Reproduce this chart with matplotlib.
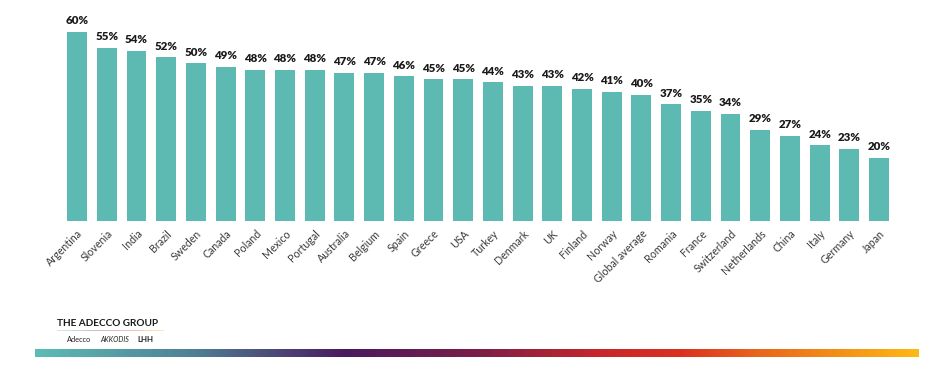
import numpy as np
import matplotlib
matplotlib.use("Agg")
import matplotlib.pyplot as plt
from matplotlib.colors import LinearSegmentedColormap

countries = ["Argentina", "Slovenia", "India", "Brazil", "Sweden", "Canada", "Poland",
             "Mexico", "Portugal", "Australia", "Belgium", "Spain", "Greece", "USA",
             "Turkey", "Denmark", "UK", "Finland", "Norway", "Global average", "Romania",
             "France", "Switzerland", "Netherlands", "China", "Italy", "Germany", "Japan"]
values = [60, 55, 54, 52, 50, 49, 48, 48, 48, 47, 47, 46, 45, 45,
          44, 43, 43, 42, 41, 40, 37, 35, 34, 29, 27, 24, 23, 20]
value_labels = [f"{v}%" for v in values]

W, H = 930, 365
fig = plt.figure(figsize=(W / 100, H / 100), dpi=100)
fig.patch.set_facecolor("white")

# main axes in pixel coords
ax_left, ax_right = 62.2, 893.9
ax_bottom_px = 221  # from top
ax_top_px = 221 - 65 * 3.15
ax = fig.add_axes([ax_left / W, (H - ax_bottom_px) / H,
                   (ax_right - ax_left) / W, (ax_bottom_px - ax_top_px) / H])
x = np.arange(len(countries))
ax.bar(x, values, width=0.67, color="#5cbab3", edgecolor="none")
ax.set_xlim(-0.5, len(countries) - 0.5)
ax.set_ylim(0, 65)
for xi, v, lab in zip(x, values, value_labels):
    ax.annotate(lab, (xi, v), xytext=(0, 4), textcoords="offset points",
                ha="center", va="bottom", fontsize=8.3, fontweight="heavy",
                family=["Lato", "DejaVu Sans"], color="#1a1a1a")
ax.set_xticks(x)
ax.set_xticklabels(countries, rotation=45, ha="right", va="top",
                   rotation_mode="anchor", fontsize=7.7,
                   family=["Lato", "DejaVu Sans"], color="#3a3a3a")
ax.tick_params(axis="x", length=0, pad=5)
ax.set_yticks([])
for s in ax.spines.values():
    s.set_visible(False)

# logo text
fig.text(57 / W, 1 - 324 / H, "THE ADECCO GROUP", fontsize=7.2, fontweight="bold",
         family=["Lato", "DejaVu Sans"], color="#1a1a1a", va="center", ha="left")
fig.text(67 / W, 1 - 339 / H, "Adecco", fontsize=5.3, family=["Lato", "DejaVu Sans"],
         color="#222222", va="center", ha="left")
fig.text(100 / W, 1 - 339 / H, "AKKODIS", fontsize=5.0, family=["Lato", "DejaVu Sans"],
         color="#222222", va="center", ha="left", style="italic")
fig.text(137 / W, 1 - 339 / H, "LHH", fontsize=5.6, fontweight="bold",
         family=["Lato", "DejaVu Sans"], color="#222222", va="center", ha="left")

# gradient stripe
stops = [(0.0, "#5cbcb4"), (0.18, "#4e7f95"), (0.35, "#4a1a5e"),
         (0.50, "#7a1e48"), (0.64, "#c8262b"), (0.73, "#da3020"),
         (0.82, "#e9661c"), (1.0, "#fdb913")]
cmap = LinearSegmentedColormap.from_list("adecco", stops)
gx0, gx1, gy0, gy1 = 35, 918, 349, 357
gax = fig.add_axes([gx0 / W, 1 - gy1 / H, (gx1 - gx0) / W, (gy1 - gy0) / H])
gax.imshow(np.linspace(0, 1, 512)[None, :], aspect="auto", cmap=cmap)
gax.axis("off")

# thin line under logo
lax = fig.add_axes([57 / W, 1 - 331 / H, 106 / W, 0.8 / H])
lax.imshow(np.linspace(0, 1, 256)[None, :], aspect="auto", cmap=cmap, alpha=0.3)
lax.axis("off")

fig.savefig("out.png", dpi=100, facecolor="white")
